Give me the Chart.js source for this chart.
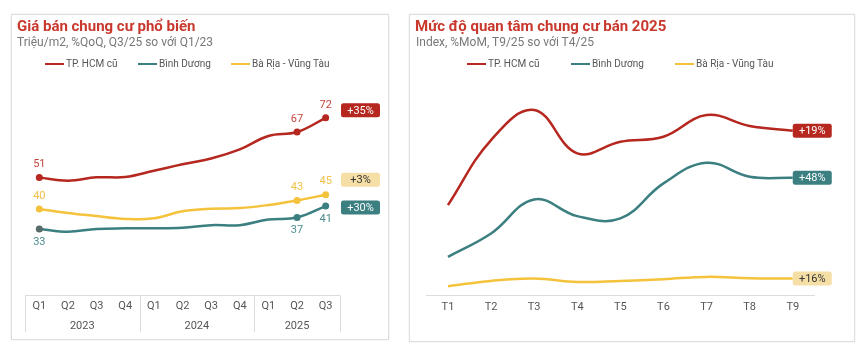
<!DOCTYPE html>
<html><head><meta charset="utf-8">
<script src="https://cdn.jsdelivr.net/npm/chart.js@4.4.1/dist/chart.umd.min.js"></script>
<style>
html,body{margin:0;padding:0}
body{width:864px;height:358px;background:#fff;font-family:Roboto,"Noto Sans",sans-serif;position:relative;overflow:hidden}
.panel{position:absolute;border:1.5px solid #dedede;box-sizing:border-box;box-shadow:0 0 2px rgba(0,0,0,.10)}
canvas{position:absolute}
.title{position:absolute;font-weight:bold;font-size:15px;color:#c8382c;white-space:nowrap;line-height:18px}
.sub{position:absolute;font-size:12px;color:#787878;white-space:nowrap;line-height:14px}
.leg{position:absolute;font-size:10px;color:#555;white-space:nowrap;line-height:12px;display:flex;align-items:center}
.leg i{display:inline-block;width:19px;height:2.5px;margin-right:2px}
</style></head>
<body>
<div class="panel" style="left:11px;top:14px;width:378px;height:326px"></div>
<div class="panel" style="left:409px;top:14px;width:446px;height:328px"></div>
<canvas id="cL" width="378" height="326" style="left:11px;top:14px"></canvas>
<canvas id="cR" width="446" height="328" style="left:409px;top:14px"></canvas>
<div class="title" style="left:17px;top:17px">Giá bán chung cư phổ biến</div>
<div class="sub" style="left:17px;top:35px">Triệu/m2, %QoQ, Q3/25 so với Q1/23</div>
<div class="title" style="left:415px;top:17px">Mức độ quan tâm chung cư bán 2025</div>
<div class="sub" style="left:416px;top:35px">Index, %MoM, T9/25 so với T4/25</div>
<div id="legends"></div>
<script>
// ---------- data ----------
const seriesNames = ['TP. HCM cũ', 'Bình Dương', 'Bà Rịa - Vũng Tàu'];

const quarterLabels = ['Q1','Q2','Q3','Q4','Q1','Q2','Q3','Q4','Q1','Q2','Q3'];
const yearLabels = ['2023','2024','2025'];
const quartersPerYear = [4, 4, 3];
const hcmPrice       = [51, 49.9, 51.1, 51.2, 53.4, 55.7, 57.7, 60.9, 65.6, 67, 72];
const binhDuongPrice = [33, 32.0, 33.0, 33.2, 33.2, 33.4, 34.3, 34.3, 36.3, 37, 41];
const baRiaPrice     = [40, 38.6, 37.5, 36.5, 36.7, 39.2, 40.1, 40.3, 41.4, 43, 45];
const labelledPoints = [0, 9, 10];
const priceChange = ['+35%', '+30%', '+3%'];

const monthLabels = ['T1','T2','T3','T4','T5','T6','T7','T8','T9'];
const hcmIndex       = [90, 155, 185, 141.7, 153.3, 158.3, 180, 169, 164.3];
const binhDuongIndex = [38.3, 61.7, 95.7, 79, 76.7, 111.7, 132.3, 118.3, 117.3];
const baRiaIndex     = [9, 14.3, 16.7, 13.3, 14.3, 16, 18.3, 17, 16.7];
const indexChange = ['+19%', '+48%', '+16%'];

// ---------- styles ----------
const COLORS = ['#b5271f', '#3b7f80', '#f5c23c'];
const LABEL_COLORS = ['#c4463c', '#4b8b8c', '#f0c04a'];
const BADGE_BG = ['#b5271f', '#3b7f80', '#f6dfa6'];
const BADGE_FG = ['#ffffff', '#ffffff', '#333333'];
const FONT = 'Roboto, "Noto Sans", sans-serif';

// HTML legends
(function(){
  const holder = document.getElementById('legends');
  const pos = [[45,138,231],[467,571,675]];
  pos.forEach(row => row.forEach((x, i) => {
    const d = document.createElement('div');
    d.className = 'leg';
    d.style.left = x + 'px'; d.style.top = '58px';
    d.innerHTML = '<i style="background:' + COLORS[i] + '"></i>' + seriesNames[i];
    holder.appendChild(d);
  }));
})();

function roundRect(ctx, x, y, w, h, r) {
  ctx.beginPath();
  ctx.moveTo(x + r, y);
  ctx.lineTo(x + w - r, y); ctx.quadraticCurveTo(x + w, y, x + w, y + r);
  ctx.lineTo(x + w, y + h - r); ctx.quadraticCurveTo(x + w, y + h, x + w - r, y + h);
  ctx.lineTo(x + r, y + h); ctx.quadraticCurveTo(x, y + h, x, y + h - r);
  ctx.lineTo(x, y + r); ctx.quadraticCurveTo(x, y, x + r, y);
  ctx.closePath();
}
function drawBadge(ctx, text, x, cy, i) {
  const w = 39, h = 14;
  ctx.save();
  ctx.fillStyle = BADGE_BG[i];
  roundRect(ctx, x, cy - h / 2, w, h, 2.5);
  ctx.fill();
  ctx.fillStyle = BADGE_FG[i];
  ctx.font = '11px ' + FONT;
  ctx.textAlign = 'center'; ctx.textBaseline = 'middle';
  ctx.fillText(text, x + w / 2, cy + 0.5);
  ctx.restore();
}

function mkDataset(i, data, pts) {
  return {
    label: seriesNames[i], data: data,
    borderColor: COLORS[i], backgroundColor: COLORS[i],
    borderWidth: 2.5, tension: 0.4, fill: false,
    pointRadius: data.map((_, k) => pts.includes(k) ? 3.5 : 0),
    pointBackgroundColor: data.map((_, k) => (i === 1 && k === 0) ? '#566a6a' : COLORS[i]),
    pointBorderWidth: 0, pointHoverRadius: 0
  };
}

// ---------- left chart ----------
const leftDeco = {
  id: 'leftDeco',
  afterDatasetsDraw(chart) {
    const ctx = chart.ctx;
    ctx.save();
    ctx.font = '11px ' + FONT;
    ctx.textAlign = 'center'; ctx.textBaseline = 'middle';
    chart.data.datasets.forEach((ds, i) => {
      const meta = chart.getDatasetMeta(i);
      labelledPoints.forEach(k => {
        const p = meta.data[k];
        const dy = i === 1 ? 13 : -13;
        ctx.fillStyle = LABEL_COLORS[i];
        ctx.fillText(String(Math.round(ds.data[k])), p.x, p.y + dy);
      });
    });
    ctx.restore();
  },
  afterDraw(chart) {
    const ctx = chart.ctx, xs = chart.scales.x, area = chart.chartArea;
    const half = (xs.getPixelForValue(1) - xs.getPixelForValue(0)) / 2;
    ctx.save();
    ctx.strokeStyle = '#dcdcdc'; ctx.lineWidth = 1;
    ctx.beginPath();
    const top = Math.round(area.bottom) + 0.5;
    ctx.moveTo(area.left, top); ctx.lineTo(area.right, top);
    let start = 0;
    const bounds = [];
    quartersPerYear.forEach(n => { bounds.push(start); start += n; });
    bounds.push(start);
    bounds.forEach(b => {
      const x = Math.round(xs.getPixelForValue(b) - half) + 0.5;
      ctx.moveTo(x, top); ctx.lineTo(x, top + 37);
    });
    ctx.stroke();
    ctx.fillStyle = '#555'; ctx.font = '11px ' + FONT;
    ctx.textAlign = 'center'; ctx.textBaseline = 'middle';
    yearLabels.forEach((y, j) => {
      const a = xs.getPixelForValue(bounds[j]);
      const b = xs.getPixelForValue(bounds[j + 1] - 1);
      ctx.fillText(y, (a + b) / 2, area.bottom + 31);
    });
    ctx.restore();
    const shift = [-7.5, 1.5, -15];
    chart.data.datasets.forEach((ds, i) => {
      const meta = chart.getDatasetMeta(i);
      const p = meta.data[meta.data.length - 1];
      drawBadge(ctx, priceChange[i], area.right + 1, p.y + shift[i], i);
    });
  }
};

new Chart(document.getElementById('cL'), {
  type: 'line',
  data: {
    labels: quarterLabels,
    datasets: [
      mkDataset(0, hcmPrice, labelledPoints),
      mkDataset(1, binhDuongPrice, labelledPoints),
      mkDataset(2, baRiaPrice, labelledPoints)
    ]
  },
  options: {
    responsive: false, animation: false, devicePixelRatio: 1,
    layout: { padding: { left: 14, right: 49, top: 81, bottom: 21.8 } },
    plugins: { legend: { display: false }, tooltip: { enabled: false } },
    scales: {
      x: { offset: true, grid: { display: false, drawTicks: false }, border: { display: false },
           ticks: { font: { family: FONT, size: 11 }, color: '#555', padding: 5, maxRotation: 0, autoSkip: false } },
      y: { display: false, min: 9.8, max: 80 }
    }
  },
  plugins: [leftDeco]
});

// ---------- right chart ----------
const rightDeco = {
  id: 'rightDeco',
  afterDatasetsDraw(chart) {
    const ctx = chart.ctx;
    chart.data.datasets.forEach((ds, i) => {
      const meta = chart.getDatasetMeta(i);
      const p = meta.data[meta.data.length - 1];
      drawBadge(ctx, indexChange[i], p.x, p.y, i);
    });
  }
};

new Chart(document.getElementById('cR'), {
  type: 'line',
  data: {
    labels: monthLabels,
    datasets: [
      mkDataset(0, hcmIndex, []),
      mkDataset(1, binhDuongIndex, []),
      mkDataset(2, baRiaIndex, [])
    ]
  },
  options: {
    responsive: false, animation: false, devicePixelRatio: 1,
    layout: { padding: { left: 17.4, right: 40.7, top: 81, bottom: 23.6 } },
    plugins: { legend: { display: false }, tooltip: { enabled: false } },
    scales: {
      x: { offset: true, grid: { display: false, drawTicks: false },
           border: { display: true, color: '#dcdcdc', width: 1 },
           ticks: { font: { family: FONT, size: 11 }, color: '#555', padding: 5, maxRotation: 0, autoSkip: false } },
      y: { display: false, min: 0, max: 200 }
    }
  },
  plugins: [rightDeco]
});
</script>
</body></html>
